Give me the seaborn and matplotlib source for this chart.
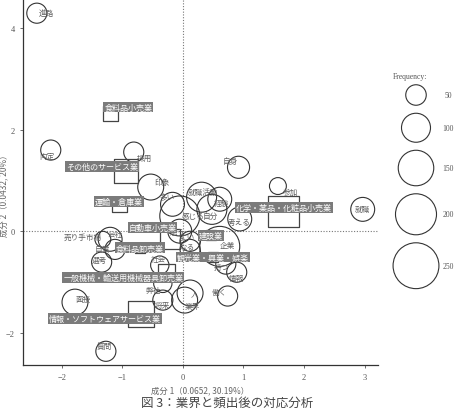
import matplotlib
matplotlib.use("Agg")
import matplotlib.pyplot as plt
import numpy as np
import pandas as pd
import seaborn as sns

# words (circles): position on the two components, frequency, label position
words = ["進路", "内定", "採用", "印象", "自身", "参加", "就職", "就職活動", "経験", "自分",
         "感じる", "多い", "考える", "思う", "よい", "なる", "企業", "持つ", "情報", "働く",
         "人", "業界", "将来", "弊社", "社会", "選考", "面接", "質問", "会社", "自信", "売り手市場"]
word_x = [-2.41, -2.18, -0.81, -0.53, 0.92, 1.57, 2.97, 0.31, 0.61, 0.48,
          -0.05, -0.17, 0.94, -0.05, 0.12, 0.12, 0.61, 0.71, 0.89, 0.74,
          0.12, 0.03, -0.33, -0.33, -0.38, -1.34, -1.78, -1.27, -1.20, -1.12, -1.32]
word_y = [4.30, 1.60, 1.56, 0.87, 1.26, 0.89, 0.43, 0.67, 0.63, 0.43,
          0.30, 0.53, 0.24, 0.00, -0.20, -0.36, -0.30, -0.65, -0.81, -1.28,
          -1.22, -1.36, -1.36, -1.03, -0.67, -0.61, -1.40, -2.37, -0.16, -0.36, -0.16]
word_freq = [48, 48, 48, 80, 58, 34, 68, 107, 68, 107,
             190, 68, 68, 68, 48, 48, 190, 48, 48, 48,
             80, 80, 48, 40, 40, 48, 80, 48, 68, 48, 30]
word_lx = [-2.26, -2.24, -0.63, -0.35, 0.78, 1.77, 2.97, 0.33, 0.64, 0.45,
           0.17, -0.26, 0.94, -0.10, 0.07, 0.07, 0.73, 0.64, 0.89, 0.61,
           0.20, 0.15, -0.33, -0.48, -0.40, -1.37, -1.65, -1.30, -1.12, -1.32, -1.65]
word_ly = [4.30, 1.48, 1.44, 0.97, 1.38, 0.77, 0.43, 0.77, 0.55, 0.30,
           0.30, 0.67, 0.18, -0.02, -0.10, -0.32, -0.28, -0.71, -0.93, -1.20,
           -1.22, -1.48, -1.46, -1.16, -0.55, -0.57, -1.34, -2.27, -0.06, -0.36, -0.12]

# industries (squares)
industries = ["食料品小売業", "その他のサービス業", "運輸・倉庫業", "自動車小売業", "食料品卸売業",
              "建設業", "化学・薬品・化粧品小売業", "観光業・興業・娯楽",
              "一般機械・輸送用機械器具卸売業", "情報・ソフトウェアサービス業"]
ind_x = [-1.20, -0.94, -1.04, -0.21, -0.71, 0.46, 1.66, 0.50, -0.27, -0.69]
ind_y = [2.32, 1.19, 0.52, -0.16, -0.34, -0.08, 0.38, -0.51, -0.81, -1.63]
ind_n = [27, 68, 27, 48, 12, 12, 114, 12, 34, 80]
ind_lx = [-0.90, -1.33, -1.06, -0.50, -0.71, 0.46, 1.67, 0.50, -0.98, -1.28]
ind_ly = [2.45, 1.28, 0.59, 0.07, -0.33, -0.09, 0.47, -0.51, -0.91, -1.73]

legend_freq = [50, 100, 150, 200, 250]

words_df = pd.DataFrame({"x": word_x, "y": word_y, "freq": word_freq})
ind_df = pd.DataFrame({"x": ind_x, "y": ind_y, "n": ind_n})

sns.set_style("white")
jp = ["Noto Sans CJK JP", "DejaVu Sans"]
serif = ["Liberation Serif", "DejaVu Serif"]
plt.rcParams["font.family"] = jp

# marker area (pt^2) proportional to frequency
size_kw = dict(sizes=(0, 4360), size_norm=(0, 1000), legend=False)

fig = plt.figure(figsize=(4.58, 4.14), dpi=100)
ax = fig.add_axes([0.050, 0.116, 0.775, 0.884])

ax.axhline(0, color="#777777", lw=0.8, ls=(0, (1, 1.5)), zorder=0)
ax.axvline(0, color="#777777", lw=0.8, ls=(0, (1, 1.5)), zorder=0)

sns.scatterplot(data=words_df, x="x", y="y", size="freq", ax=ax,
                facecolor="none", edgecolor="#333333", linewidth=0.8, zorder=2, **size_kw)
sns.scatterplot(data=ind_df, x="x", y="y", size="n", marker="s", ax=ax,
                facecolor="none", edgecolor="#444444", linewidth=0.9, zorder=2, **size_kw)

for w, lx, ly in zip(words, word_lx, word_ly):
    ax.text(lx, ly, w, fontsize=5.5, color="#5f5f5f", ha="center", va="center", zorder=3)

for name, lx, ly in zip(industries, ind_lx, ind_ly):
    ax.text(lx, ly, name, fontsize=5.8, color="white", ha="center", va="center", zorder=4,
            bbox=dict(boxstyle="square,pad=0.12", fc="#7b7b7b", ec="none"))

ax.set_xlim(-2.64, 3.22)
ax.set_ylim(-2.64, 4.58)
ax.set_xticks([-2, -1, 0, 1, 2, 3])
ax.set_yticks([-2, 0, 2, 4])
ax.tick_params(labelsize=6, colors="#555555", length=2.5, width=0.6, direction="out",
               left=True, bottom=True)
for lab in ax.get_xticklabels() + ax.get_yticklabels():
    lab.set_family(serif)
sns.despine(ax=ax)
for side in ["left", "bottom"]:
    ax.spines[side].set_color("#333333")
    ax.spines[side].set_linewidth(0.9)

ax.set_xlabel("成分 1（0.0652, 30.19%）", fontsize=6, color="#666666", labelpad=3)
ax.set_ylabel("成分 2（0.0432, 20%）", fontsize=6, color="#666666")
ax.yaxis.set_label_coords(-0.04, 0.47)

fig.text(0.496, 0.027, "図 3：業界と頻出後の対応分析", fontsize=9, color="#444444",
         ha="center", va="center")

# frequency legend
lax = fig.add_axes([380 / 458, 114 / 414, 78 / 458, 240 / 414])
lax.set_xlim(0, 78)
lax.set_ylim(240, 0)
lax.axis("off")
radii = [1.45 * np.sqrt(f) for f in legend_freq]
centers = [36]
for i in range(1, len(radii)):
    centers.append(centers[-1] + radii[i - 1] + radii[i] + 8)
leg_df = pd.DataFrame({"x": [36] * len(legend_freq), "y": centers, "freq": legend_freq})
sns.scatterplot(data=leg_df, x="x", y="y", size="freq", ax=lax,
                facecolor="none", edgecolor="#333333", linewidth=0.8, **size_kw)
lax.set_xlabel("")
lax.set_ylabel("")
lax.text(30, 17, "Frequency:", fontsize=5.5, color="#555555", ha="center", va="center", family=serif)
for f, cy in zip(legend_freq, centers):
    lax.text(68, cy, str(f), fontsize=5.5, color="#555555", ha="center", va="center", family=serif)

fig.savefig("out.png", dpi=100)
